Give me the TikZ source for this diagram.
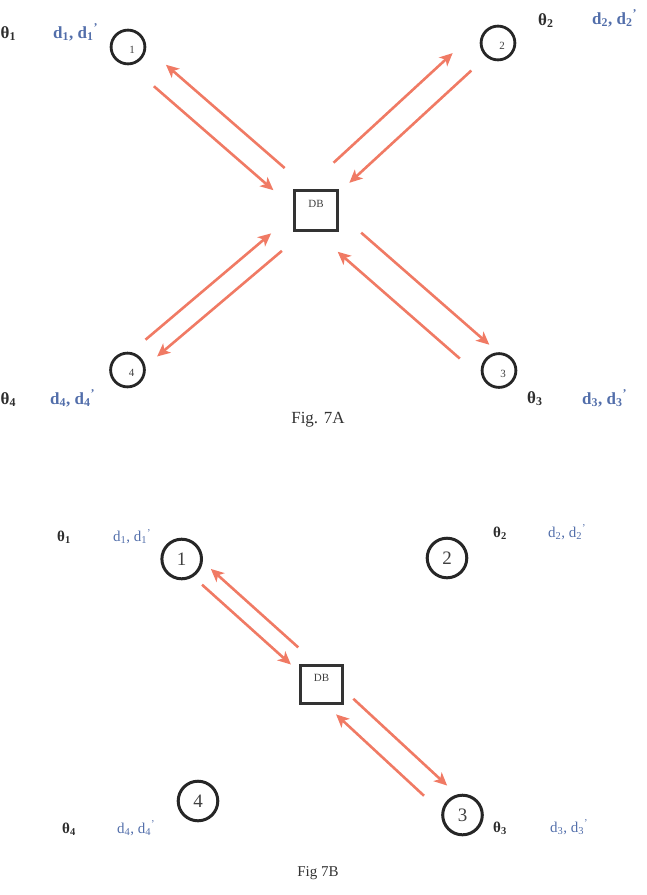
\documentclass[tikz,border=0pt]{standalone}
\usepackage{fontspec}
\setmainfont{Liberation Serif}
\usepackage{xcolor}
\usetikzlibrary{arrows.meta, positioning}

\definecolor{flowred}{RGB}{240,122,100}
\definecolor{dblue}{RGB}{82,110,170}
\definecolor{thgray}{RGB}{45,45,45}

\begin{document}
\begin{tikzpicture}[
    x=1pt, y=-1pt,
    site/.style={circle, draw=black!85, line width=2.8pt, minimum size=33.8pt, inner sep=0pt},
    bigsite/.style={site, line width=3pt, minimum size=39.6pt, font=\fontsize{19}{19}\selectfont, text=black!75},
    num/.style={font=\fontsize{11}{11}\selectfont, text=black!75, xshift=4pt, yshift=-3pt},
    dbbox/.style={draw=black!80, line width=2.8pt, minimum width=43.2pt, minimum height=40.2pt, inner sep=0pt},
    dbtext/.style={font=\fontsize{11}{11}\selectfont, text=black!75, yshift=7pt},
    thlabel/.style={anchor=base west, inner sep=0pt, text=thgray, font=\bfseries\fontsize{17}{17}\selectfont},
    dlabel/.style={anchor=base west, inner sep=0pt, text=dblue, font=\bfseries\fontsize{17}{17}\selectfont},
    smallth/.style={thlabel, font=\bfseries\fontsize{15}{15}\selectfont},
    smalld/.style={dlabel, font=\fontsize{15}{15}\selectfont},
    caption/.style={font=\fontsize{17}{17}\selectfont, text=black!80},
    flow/.style={draw=flowred, line width=2.6pt, -{Stealth[length=13pt, width=12pt, inset=3.5pt]}}
  ]
  \useasboundingbox (0,0) rectangle (646,895);

  % Fig. 7A
  \node[dbbox, label={[dbtext]center:DB}] (db) at (316,210.5) {};
  \node[site, label={[num]center:1}] (n1) at (128,47) {};
  \node[site, label={[num]center:2}] (n2) at (498,43) {};
  \node[site, label={[num]center:3}] (n3) at (499,370.5) {};
  \node[site, label={[num]center:4}] (n4) at (127.5,370) {};

  \node[thlabel] (th1) at (0.5,38) {θ\textsubscript{1}};
  \node[dlabel] (dd1) at (53,38) {d\textsubscript{1}, d\textsubscript{1}\textsuperscript{'}};
  \node[thlabel] (th2) at (538,25) {θ\textsubscript{2}};
  \node[dlabel] (dd2) at (592,24) {d\textsubscript{2}, d\textsubscript{2}\textsuperscript{'}};
  \node[thlabel] (th3) at (527,403) {θ\textsubscript{3}};
  \node[dlabel] (dd3) at (582,404) {d\textsubscript{3}, d\textsubscript{3}\textsuperscript{'}};
  \node[thlabel] (th4) at (0.5,404) {θ\textsubscript{4}};
  \node[dlabel] (dd4) at (50,404) {d\textsubscript{4}, d\textsubscript{4}\textsuperscript{'}};
  \node[caption] (figa) at (318,420) {Fig. 7A};

  \draw[flow, transform canvas={shift={(7.5,-8.7)}}, shorten <=21pt, shorten >=22pt] (db) -- (n1);
  \draw[flow, transform canvas={shift={(-8.3,9.5)}}, shorten <=27pt, shorten >=15pt] (n1) -- (db);
  \draw[flow, transform canvas={shift={(-15.7,-17.2)}}, shorten <=14pt, shorten >=22pt] (db) -- (n2);
  \draw[flow, transform canvas={shift={(1.5,1.6)}}, shorten <=20pt, shorten >=12pt] (n2) -- (db);
  \draw[flow, transform canvas={shift={(8.6,-9.8)}}, shorten <=18pt, shorten >=6pt] (db) -- (n3);
  \draw[flow, transform canvas={shift={(-11.1,12.6)}}, shorten <=19pt, shorten >=13pt] (n3) -- (db);
  \draw[flow, transform canvas={shift={(5.7,6.7)}}, shorten <=22pt, shorten >=13pt] (db) -- (n4);
  \draw[flow, transform canvas={shift={(-7.4,-8.8)}}, shorten <=15pt, shorten >=19pt] (n4) -- (db);

  % Fig 7B
  \node[dbbox, minimum width=42pt, minimum height=38pt, label={[dbtext, yshift=-0.5pt]center:DB}] (db2) at (321.5,684.5) {};
  \node[bigsite] (m1) at (181.7,559) {1};
  \node[bigsite] (m2) at (447,558) {2};
  \node[bigsite] (m3) at (462.5,815) {3};
  \node[bigsite] (m4) at (198,801) {4};

  \node[smallth] (sth1) at (57,541) {θ\textsubscript{1}};
  \node[smalld] (sd1) at (113,541.5) {d\textsubscript{1}, d\textsubscript{1}\textsuperscript{'}};
  \node[smallth] (sth2) at (493,537) {θ\textsubscript{2}};
  \node[smalld] (sd2) at (548,537) {d\textsubscript{2}, d\textsubscript{2}\textsuperscript{'}};
  \node[smallth] (sth3) at (493,832) {θ\textsubscript{3}};
  \node[smalld] (sd3) at (550,832) {d\textsubscript{3}, d\textsubscript{3}\textsuperscript{'}};
  \node[smallth] (sth4) at (62,833) {θ\textsubscript{4}};
  \node[smalld] (sd4) at (117,833) {d\textsubscript{4}, d\textsubscript{4}\textsuperscript{'}};
  \node[caption, font=\fontsize{15}{15}\selectfont] (figb) at (318,873) {Fig 7B};

  \draw[flow, transform canvas={shift={(8.1,-9)}}, shorten <=12pt, shorten >=7pt] (db2) -- (m1);
  \draw[flow, transform canvas={shift={(-3.7,4.1)}}, shorten <=11pt, shorten >=6pt] (m1) -- (db2);
  \draw[flow, transform canvas={shift={(7.6,-8.2)}}, shorten <=3pt, shorten >=10pt] (db2) -- (m3);
  \draw[flow, transform canvas={shift={(-8.2,8.8)}}, shorten <=20pt, shorten >=1pt] (m3) -- (db2);
\end{tikzpicture}
\end{document}
